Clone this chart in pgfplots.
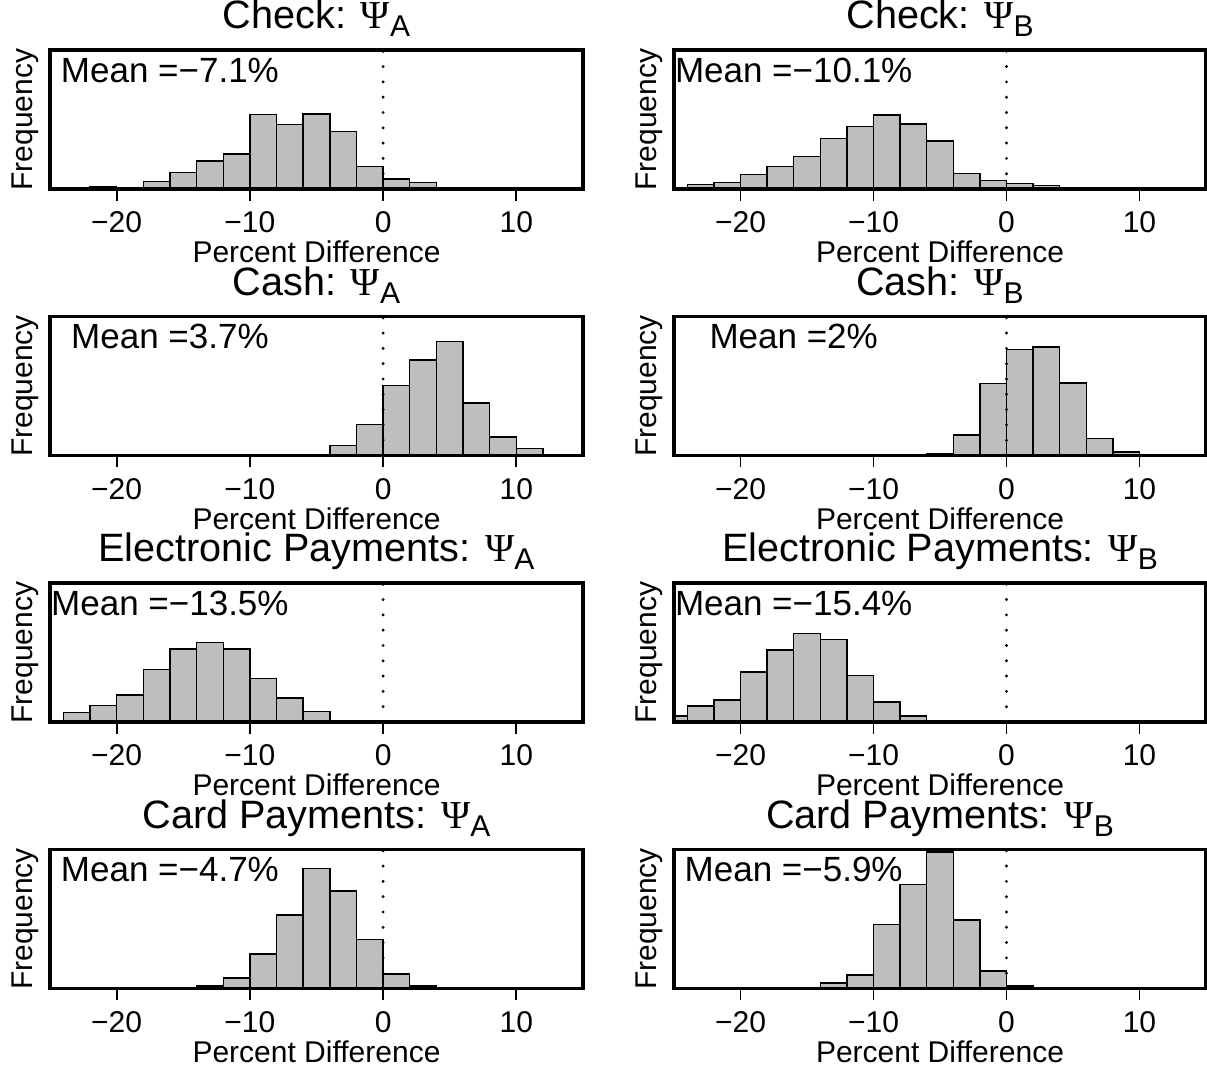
\documentclass[border=0pt]{standalone}
\usepackage{pgfplots}
\pgfplotsset{compat=1.18}
\usepackage{fontspec}
\setmainfont{Liberation Sans}
\newfontfamily\psifont{Liberation Serif}
\definecolor{histgray}{HTML}{BEBEBE}

\newcommand{\ttl}[2]{#1: {\psifont Ψ}\raisebox{-3.8pt}{\fontsize{15}{15}\selectfont #2}}
% remember the tick positions on the x axis of the current panel
\newcommand{\tickpts}{%
  \coordinate (tkA) at (axis cs:-20,0);
  \coordinate (tkB) at (axis cs:-10,0);
  \coordinate (tkC) at (axis cs:0,0);
  \coordinate (tkD) at (axis cs:10,0);
}
% draw the outward tick marks of the panel just finished
\newcommand{\drawticks}{%
  \foreach \t in {tkA,tkB,tkC,tkD} {\draw[black, line width=0.9pt] (\t) -- ++(0,-6pt);}
}

\tikzset{meantxt/.style={anchor=base, font=\fontsize{17.5}{21}\selectfont}}
\pgfplotsset{
  panel/.style={
    scale only axis, anchor=south west,
    xmin=-25, xmax=15, ymin=0,
    axis line style={line width=1.8pt},
    xtick={-20,-10,0,10}, xticklabels={−20,−10,0,10},
    ytick=\empty,
    tick align=outside, xtick pos=left,
    major tick length=6pt,
    tick style={black, line width=0.9pt},
    tick label style={font=\fontsize{15}{18}\selectfont},
    label style={font=\fontsize{15}{18}\selectfont},
    xticklabel style={anchor=base, yshift=-16pt},
    xlabel={Percent Difference},
    ylabel={Frequency},
    xlabel style={at={(axis description cs:0.5,0)}, anchor=base, yshift=-37pt},
    ylabel style={at={(axis description cs:-0.047,0.5)}, anchor=center},
    title style={at={(axis description cs:0.5,1)}, anchor=base, yshift=4.5pt, font=\fontsize{19.8}{23}\selectfont},
    axis on top, clip=false,
  },
  hist/.style={ybar interval, fill=histgray, draw=black, line width=0.7pt},
  zline/.style={black, line width=1.6pt, line cap=round, dash pattern=on 0pt off 7.65pt},
}

\begin{document}
\begin{tikzpicture}
\useasboundingbox (0,0) rectangle (603.5pt,536pt);

% Row 1
\begin{axis}[panel, at={(25pt,441.5pt)}, width=266.5pt, height=69.5pt, ymax=415, title={\ttl{Check}{A}}]
\addplot[hist] coordinates {(-22,7) (-20,3) (-18,23) (-16,50) (-14,84) (-12,104) (-10,222) (-8,192) (-6,224) (-4,172) (-2,67) (0,30) (2,20) (4,4) (6,0)};
\addplot[zline] coordinates {(0,0) (0,415)};
\node[meantxt] at (rel axis cs:0.225,0.767) {Mean =−7.1\%};
\tickpts
\end{axis}
\drawticks
\begin{axis}[panel, at={(337pt,441.5pt)}, width=266pt, height=69.5pt, ymax=418, title={\ttl{Check}{B}}]
\addplot[hist] coordinates {(-24,13) (-22,19) (-20,44) (-18,67) (-16,98) (-14,151) (-12,188) (-10,222) (-8,196) (-6,144) (-4,47) (-2,25) (0,17) (2,11) (4,0)};
\addplot[zline] coordinates {(0,0) (0,418)};
\node[meantxt] at (rel axis cs:0.225,0.767) {Mean =−10.1\%};
\tickpts
\end{axis}
\drawticks

% Row 2
\begin{axis}[panel, at={(25pt,308.25pt)}, width=266.5pt, height=69.5pt, ymax=412, title={\ttl{Cash}{A}}]
\addplot[hist] coordinates {(-6,3) (-4,30) (-2,91) (0,207) (2,283) (4,337) (6,155) (8,55) (10,20) (12,3) (14,0)};
\addplot[zline] coordinates {(0,0) (0,412)};
\node[meantxt] at (rel axis cs:0.225,0.767) {Mean =3.7\%};
\tickpts
\end{axis}
\drawticks
\begin{axis}[panel, at={(337pt,308.25pt)}, width=266pt, height=69.5pt, ymax=410, title={\ttl{Cash}{B}}]
\addplot[hist] coordinates {(-8,3) (-6,6) (-4,60) (-2,212) (0,312) (2,320) (4,214) (6,50) (8,10) (10,0)};
\addplot[zline] coordinates {(0,0) (0,410)};
\node[meantxt] at (rel axis cs:0.225,0.767) {Mean =2\%};
\tickpts
\end{axis}
\drawticks

% Row 3
\begin{axis}[panel, at={(25pt,175pt)}, width=266.5pt, height=69.5pt, ymax=420, title={\ttl{Electronic Payments}{A}}]
\addplot[hist] coordinates {(-25,3) (-24,29) (-22,49) (-20,81) (-18,159) (-16,220) (-14,240) (-12,220) (-10,132) (-8,72) (-6,31) (-4,4) (-2,0)};
\addplot[zline] coordinates {(0,0) (0,420)};
\node[meantxt] at (rel axis cs:0.225,0.767) {Mean =−13.5\%};
\tickpts
\end{axis}
\drawticks
\begin{axis}[panel, at={(337pt,175pt)}, width=266pt, height=69.5pt, ymax=420, title={\ttl{Electronic Payments}{B}}]
\addplot[hist] coordinates {(-25,18) (-24,48) (-22,67) (-20,151) (-18,217) (-16,267) (-14,250) (-12,141) (-10,60) (-8,18) (-6,0)};
\addplot[zline] coordinates {(0,0) (0,420)};
\node[meantxt] at (rel axis cs:0.225,0.767) {Mean =−15.4\%};
\tickpts
\end{axis}
\drawticks

% Row 4
\begin{axis}[panel, at={(25pt,41.75pt)}, width=266.5pt, height=69.5pt, ymax=415, title={\ttl{Card Payments}{A}}]
\addplot[hist] coordinates {(-14,8) (-12,31) (-10,103) (-8,219) (-6,359) (-4,291) (-2,147) (0,43) (2,8) (4,0)};
\addplot[zline] coordinates {(0,0) (0,415)};
\node[meantxt] at (rel axis cs:0.225,0.767) {Mean =−4.7\%};
\tickpts
\end{axis}
\drawticks
\begin{axis}[panel, at={(337pt,41.75pt)}, width=266pt, height=69.5pt, ymax=418, title={\ttl{Card Payments}{B}}]
\addplot[hist] coordinates {(-14,17) (-12,41) (-10,193) (-8,313) (-6,410) (-4,206) (-2,53) (0,8) (2,0)};
\addplot[zline] coordinates {(0,0) (0,418)};
\node[meantxt] at (rel axis cs:0.225,0.767) {Mean =−5.9\%};
\tickpts
\end{axis}
\drawticks
\end{tikzpicture}
\end{document}
